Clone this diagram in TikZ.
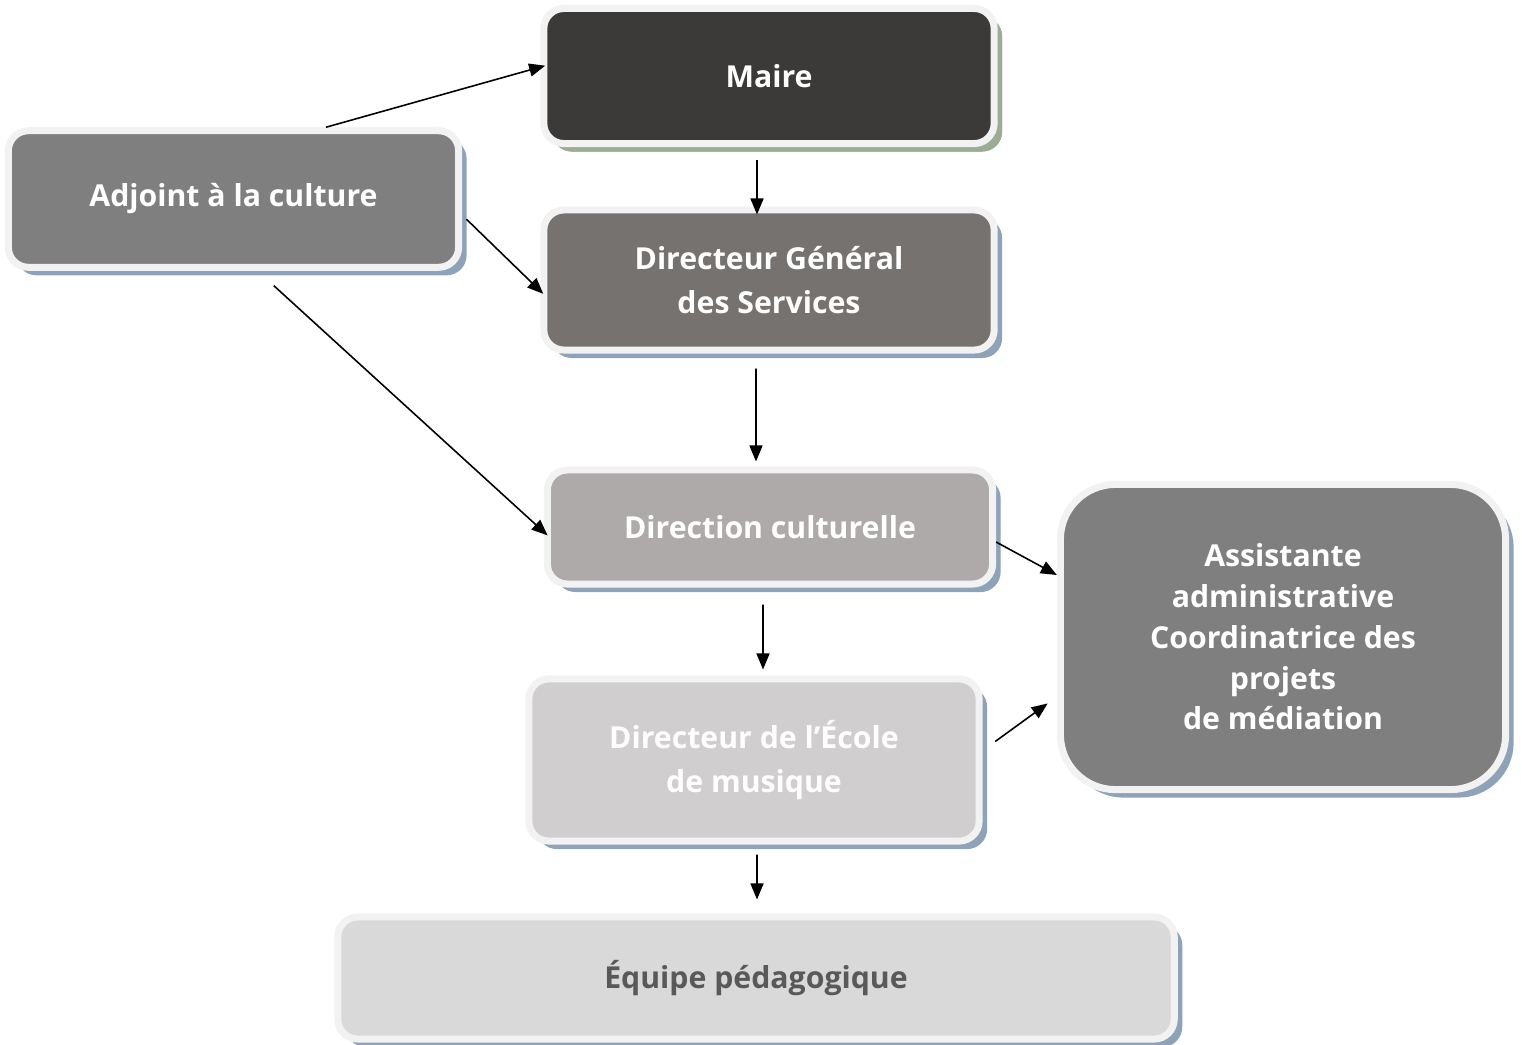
\documentclass[tikz,border=0pt]{standalone}
\usepackage{fontspec}
\setmainfont{Open Sans}
\usepackage{xcolor}
\usepackage{tikz}
\usetikzlibrary{arrows.meta,positioning,shadows}

\definecolor{cMaire}{HTML}{3B3A38}
\definecolor{cAdjoint}{HTML}{7F7F7F}
\definecolor{cDGS}{HTML}{757270}
\definecolor{cDirCult}{HTML}{AEAAAA}
\definecolor{cEcole}{HTML}{D0CECE}
\definecolor{cEquipe}{HTML}{D9D9D9}
\definecolor{cBord}{HTML}{F2F2F2}
\definecolor{cOmbre}{HTML}{8EA2BA}
\definecolor{cOmbreVert}{HTML}{9DAD93}
\definecolor{cTexteSombre}{HTML}{595959}

\tikzset{
  boite/.style={draw=cBord, line width=0.07cm, rounded corners=0.2cm,
    text=white, font=\bfseries\fontsize{8.6}{12.4}\selectfont, align=center,
    drop shadow={shadow xshift=0.08cm, shadow yshift=-0.08cm, fill=cOmbre, opacity=1}},
  fleche/.style={-{Triangle[length=0.16cm,width=0.13cm]}, line width=0.45pt}
}

\begin{document}
\begin{tikzpicture}[x=0.01cm, y=-0.01cm]
\useasboundingbox (0,0) rectangle (1521,1044);

% Boxes
\node[boite, fill=cMaire, minimum width=4.5cm, minimum height=1.35cm,
  drop shadow={shadow xshift=0.08cm, shadow yshift=-0.08cm, fill=cOmbreVert, opacity=1}]
  (maire) at (769,76) {Maire};
\node[boite, fill=cAdjoint, minimum width=4.5cm, minimum height=1.365cm]
  (adjoint) at (233.5,199) {Adjoint à la culture};
\node[boite, fill=cDGS, minimum width=4.5cm, minimum height=1.4cm]
  (dgs) at (769,280) {Directeur Général\\des Services};
\node[boite, fill=cDirCult, minimum width=4.45cm, minimum height=1.14cm]
  (dircult) at (770,527) {Direction culturelle};
\node[boite, fill=cEcole, minimum width=4.5cm, minimum height=1.62cm]
  (ecole) at (754,760) {Directeur de l’École\\de musique};
\node[boite, fill=cAdjoint, minimum width=4.45cm, minimum height=3.05cm,
  rounded corners=0.55cm, font=\bfseries\fontsize{8.6}{11.6}\selectfont]
  (assist) at (1283,637) {Assistante\\administrative\\Coordinatrice des\\projets\\de médiation};
\node[boite, fill=cEquipe, text=cTexteSombre, minimum width=8.36cm, minimum height=1.22cm]
  (equipe) at (756,978) {Équipe pédagogique};

% Arrows
\draw[fleche, shorten >=-0.05cm] ([xshift=0.925cm]adjoint.north) -- ([yshift=0.09cm]maire.west);
\draw[fleche, shorten <=0.06cm, shorten >=-0.04cm] ([yshift=-0.16cm]adjoint.east) -- ([yshift=-0.11cm]dgs.west);
\draw[fleche, shorten <=0.22cm, shorten >=-0.05cm] ([xshift=0.24cm]adjoint.south) -- ([yshift=-0.05cm]dircult.west);
\draw[fleche, shorten <=0.13cm, shorten >=-0.08cm] ([xshift=-0.12cm]maire.south) -- ([xshift=-0.12cm]dgs.north);
\draw[fleche, shorten <=0.15cm, shorten >=0.05cm] ([xshift=-0.13cm]dgs.south) -- ([xshift=-0.14cm]dircult.north);
\draw[fleche] ([yshift=-0.15cm]dircult.east) -- ([yshift=0.62cm]assist.west);
\draw[fleche, shorten <=0.17cm, shorten >=0.06cm] ([xshift=-0.07cm]dircult.south) -- ([xshift=0.09cm]ecole.north);
\draw[fleche, shorten <=0.156cm, shorten >=0.114cm] ([yshift=0.094cm]ecole.east) -- ([yshift=-0.597cm]assist.west);
\draw[fleche, shorten <=0.1cm, shorten >=0.14cm] ([xshift=0.03cm]ecole.south) -- ([xshift=0.01cm]equipe.north);

\end{tikzpicture}
\end{document}
